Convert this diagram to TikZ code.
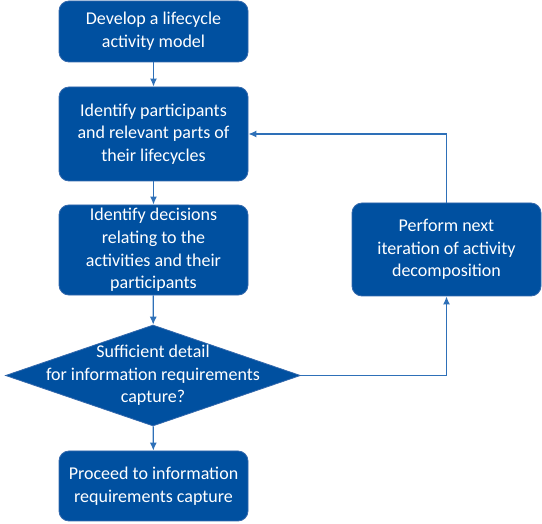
\documentclass[tikz,border=0pt]{standalone}
\usepackage{fontspec}
\setmainfont{Carlito}
\usepackage{tikz}
\usetikzlibrary{arrows.meta,shapes.geometric}
\definecolor{boxblue}{RGB}{0,80,160}
\definecolor{boxline}{RGB}{52,104,172}
\definecolor{lineblue}{RGB}{46,112,184}
\tikzset{
    stepbox/.style={rectangle,rounded corners=10pt,draw=boxline,line width=0.8pt,fill=boxblue,
        text=white,align=center,minimum width=189pt,font=\fontsize{18}{22.7}\selectfont},
    decision/.style={diamond,draw=boxline,line width=0.8pt,fill=boxblue,inner sep=0pt,
        minimum width=295pt,minimum height=101pt},
    dtext/.style={text=white,align=center,font=\fontsize{18}{22.7}\selectfont},
    edge/.style={->,> = {Latex[length=8pt,width=7pt]},draw=lineblue,line width=1.3pt}
}

\begin{document}
\begin{tikzpicture}[x=1pt,y=-1pt]
\useasboundingbox (0,0) rectangle (542,524);
\node[stepbox,minimum height=61pt] (1) at (153.5,31.5) {Develop a lifecycle\\activity model};
\node[stepbox,minimum height=94pt] (2) at (153.5,134) {Identify participants\\and relevant parts of\\their lifecycles};
\node[stepbox,minimum height=90pt] (3) at (153.5,250) {Identify decisions\\relating to the\\activities and their\\participants};
\node[decision,label={[dtext]center:{Sufficient detail\\for information requirements\\capture?}}] (4) at (153,375.5) {};
\node[stepbox,minimum height=70pt] (6) at (153.5,486) {Proceed to information\\requirements capture};
\node[stepbox,minimum height=93pt] (5) at (446.5,249.5) {Perform next\\iteration of activity\\decomposition};

\draw[edge] (1) -- (2);
\draw[edge] (2) -- (3);
\draw[edge] (3) -- (4);
\draw[edge] (4) -- (6);
\draw[edge] (4.east) -| (5.south);
\draw[edge] (5.north) |- (2.east);

\end{tikzpicture}
\end{document}
